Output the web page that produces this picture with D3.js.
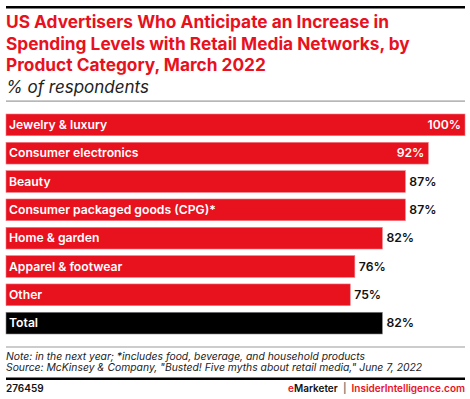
<!DOCTYPE html>
<html>
<head>
<meta charset="utf-8">
<script src="https://cdn.jsdelivr.net/npm/d3@7"></script>
<style>
  body { margin: 0; background: #fff; }
  svg { display: block; font-family: Inter, "Noto Sans", sans-serif; }
</style>
</head>
<body>
<div id="chart"></div>
<script>
// chart data
var categories = ["Jewelry & luxury", "Consumer electronics", "Beauty",
  "Consumer packaged goods (CPG)*", "Home & garden", "Apparel & footwear", "Other", "Total"];
var values = [100, 92, 87, 87, 82, 76, 75, 82];
var titleLines = ["US Advertisers Who Anticipate an Increase in",
  "Spending Levels with Retail Media Networks, by",
  "Product Category, March 2022"];
var subtitle = "% of respondents";
var noteLines = ["Note: in the next year; *includes food, beverage, and household products",
  "Source: McKinsey & Company, \"Busted! Five myths about retail media,\" June 7, 2022"];
var chartId = "276459";

var width = 470, height = 399;
var red = "#e8111e";

var svg = d3.select("#chart").append("svg")
    .attr("width", width)
    .attr("height", height);

// top rule
svg.append("rect").attr("x", 6).attr("y", 6).attr("width", 459).attr("height", 2.5).attr("fill", "#000");

// title
svg.append("g").selectAll("text")
    .data(titleLines)
    .enter()
    .append("text")
    .attr("x", 6)
    .attr("y", function(d, i) { return 28 + i * 21.5; })
    .attr("fill", red)
    .style("font-weight", 700)
    .style("font-size", "17.3px")
    .text(function(d) { return d; });

svg.append("text")
    .attr("x", 6)
    .attr("y", 93)
    .attr("fill", "#222")
    .style("font-style", "italic")
    .style("font-size", "17px")
    .text(subtitle);

svg.append("rect").attr("x", 6).attr("y", 100.5).attr("width", 459).attr("height", 1.2).attr("fill", "#999");

// bars
var x = d3.scaleLinear().domain([0, 100]).range([6, 465]);
var y = d3.scaleBand().domain(categories).range([114, 334]).paddingInner(0.233).paddingOuter(0);

var rows = svg.append("g").selectAll("g")
    .data(categories)
    .enter()
    .append("g");

rows.append("rect")
    .attr("x", x(0))
    .attr("y", function(d) { return y(d); })
    .attr("width", function(d, i) { return x(values[i]) - x(0); })
    .attr("height", y.bandwidth())
    .attr("fill", function(d, i) { return d === "Total" ? "#000" : red; })
    .attr("stroke", function(d) { return d === "Total" ? "#888" : "#f27c85"; })
    .attr("stroke-width", 0.6);

rows.append("text")
    .attr("x", 9)
    .attr("y", function(d) { return y(d) + y.bandwidth() / 2; })
    .attr("dy", "0.35em")
    .attr("fill", "#fff")
    .style("font-weight", 600)
    .style("font-size", "12.2px")
    .text(function(d) { return d; });

// value labels: inside the bar when there is no room outside
rows.append("text")
    .attr("x", function(d, i) { return values[i] > 90 ? x(values[i]) - 4 : x(values[i]) + 4; })
    .attr("y", function(d) { return y(d) + y.bandwidth() / 2; })
    .attr("dy", "0.35em")
    .attr("text-anchor", function(d, i) { return values[i] > 90 ? "end" : "start"; })
    .attr("fill", function(d, i) { return values[i] > 90 ? "#fff" : "#111"; })
    .style("font-weight", 600)
    .style("font-size", "12.2px")
    .text(function(d, i) { return values[i] + "%"; });

// footer
svg.append("rect").attr("x", 6).attr("y", 346.5).attr("width", 459).attr("height", 1).attr("fill", "#999");

svg.append("g").selectAll("text")
    .data(noteLines)
    .enter()
    .append("text")
    .attr("x", 6)
    .attr("y", function(d, i) { return 359.8 + i * 11.5; })
    .attr("fill", "#222")
    .style("font-style", "italic")
    .style("font-size", "10.35px")
    .text(function(d) { return d; });

svg.append("rect").attr("x", 6).attr("y", 377.5).attr("width", 459).attr("height", 2.5).attr("fill", "#000");

svg.append("text")
    .attr("x", 6)
    .attr("y", 392)
    .attr("fill", "#111")
    .style("font-weight", 600)
    .style("font-size", "10px")
    .text(chartId);

var brand = svg.append("text")
    .attr("x", 465)
    .attr("y", 392)
    .attr("text-anchor", "end")
    .style("font-weight", 600)
    .style("font-size", "10px");
brand.append("tspan").attr("fill", red).text("e");
brand.append("tspan").attr("fill", "#111").text("Marketer");
brand.append("tspan").attr("fill", "#777").attr("dx", 5).text("|");
brand.append("tspan").attr("fill", red).attr("dx", 5).text("InsiderIntelligence.com");
</script>
</body>
</html>
